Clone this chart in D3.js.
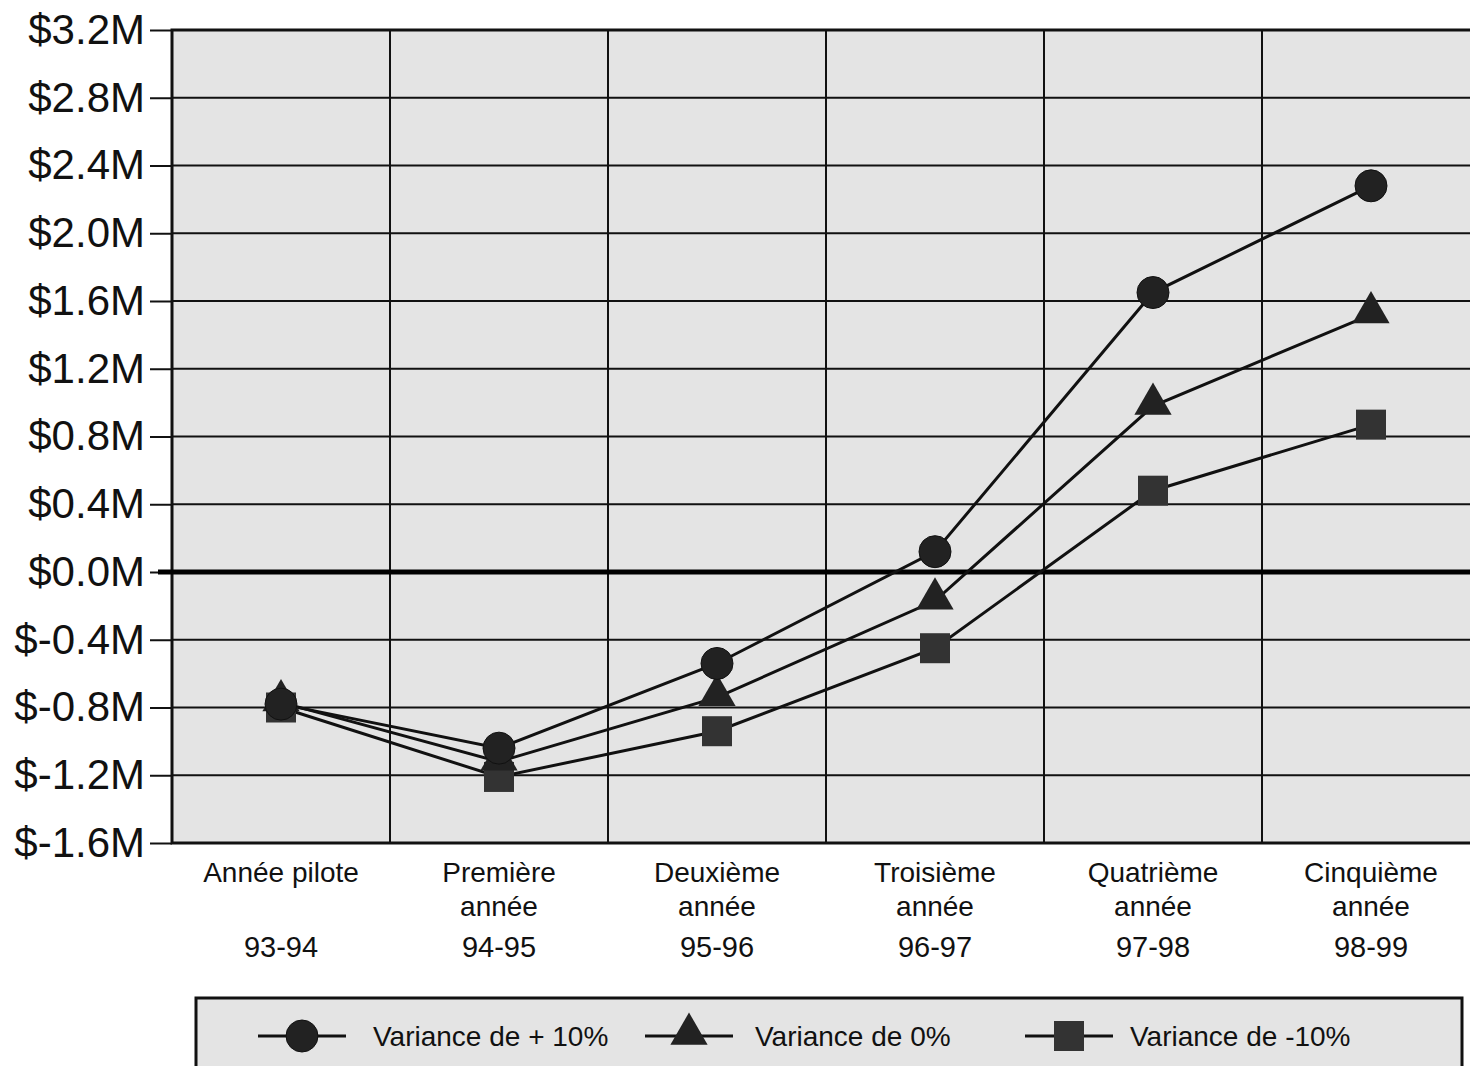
<!DOCTYPE html>
<html>
<head>
<meta charset="utf-8">
<script src="https://cdn.jsdelivr.net/npm/d3@7"></script>
<style>
  body { margin: 0; background: #fff; }
  svg { display: block; font-family: "Liberation Sans", Arial, sans-serif; }
</style>
</head>
<body>
<div id="chart"></div>
<script>
// Categories (x axis, three text rows)
const yearNames = ['Année pilote', 'Première', 'Deuxième', 'Troisième', 'Quatrième', 'Cinquième'];
const yearSub = ['', 'année', 'année', 'année', 'année', 'année'];
const periods = ['93-94', '94-95', '95-96', '96-97', '97-98', '98-99'];

// Series values, millions of dollars
const plus10 = [-0.78, -1.04, -0.54, 0.12, 1.65, 2.28];
const zero = [-0.77, -1.12, -0.74, -0.17, 0.98, 1.52];
const minus10 = [-0.80, -1.21, -0.94, -0.45, 0.48, 0.87];

const yTicks = [-1.6, -1.2, -0.8, -0.4, 0.0, 0.4, 0.8, 1.2, 1.6, 2.0, 2.4, 2.8, 3.2];
const seriesNames = ['Variance de + 10%', 'Variance de 0%', 'Variance de -10%'];

const W = 1470, H = 1066;
const plot = { left: 172, right: 1480, top: 30, bottom: 843 };

const svg = d3.select('#chart').append('svg').attr('width', W).attr('height', H);

const x = d3.scaleBand().domain(periods).range([plot.left, plot.right]).padding(0);
const y = d3.scaleLinear().domain([-1.6, 3.2]).range([plot.bottom, plot.top]);

// plot background
svg.append('rect')
  .attr('x', plot.left).attr('y', plot.top)
  .attr('width', plot.right - plot.left).attr('height', plot.bottom - plot.top)
  .attr('fill', '#e4e4e4');

// y axis ticks and labels
const yAxis = svg.append('g')
  .attr('transform', `translate(${plot.left},0)`)
  .call(d3.axisLeft(y).tickValues(yTicks).tickSize(22).tickPadding(5)
    .tickFormat(d => (d < 0 ? '$-' : '$') + Math.abs(d).toFixed(1) + 'M'));
yAxis.select('.domain').remove();
yAxis.selectAll('.tick line').attr('stroke', '#111').attr('stroke-width', 2);
yAxis.selectAll('.tick text').attr('font-size', 42).attr('fill', '#111');

// horizontal grid
svg.append('g')
  .selectAll('line')
  .data(yTicks.filter(d => d !== 0 && d !== -1.6 && d !== 3.2))
  .join('line')
  .attr('x1', plot.left).attr('x2', plot.right)
  .attr('y1', d => y(d)).attr('y2', d => y(d))
  .attr('stroke', '#111').attr('stroke-width', 2);

// vertical grid
svg.append('g')
  .selectAll('line')
  .data(periods.slice(1))
  .join('line')
  .attr('x1', d => x(d)).attr('x2', d => x(d))
  .attr('y1', plot.top).attr('y2', plot.bottom)
  .attr('stroke', '#111').attr('stroke-width', 2);

// frame
svg.append('path')
  .attr('d', `M${plot.right},${plot.top}H${plot.left}V${plot.bottom}H${plot.right}`)
  .attr('fill', 'none').attr('stroke', '#111').attr('stroke-width', 3);

// zero line
svg.append('line')
  .attr('x1', plot.left - 14).attr('x2', plot.right)
  .attr('y1', y(0)).attr('y2', y(0))
  .attr('stroke', '#000').attr('stroke-width', 5);

// x labels
const xl = svg.append('g').attr('font-size', 28).attr('fill', '#111').attr('text-anchor', 'middle');
const cx = d => x(d) + x.bandwidth() / 2;
xl.selectAll('.l1').data(periods).join('text')
  .attr('x', cx).attr('y', 882).text((d, i) => yearNames[i]);
xl.selectAll('.l2').data(periods).join('text')
  .attr('x', cx).attr('y', 916).text((d, i) => yearSub[i]);
xl.selectAll('.l3').data(periods).join('text')
  .attr('x', cx).attr('y', 957).attr('font-size', 29).text(d => d);

// series
const series = [
  { name: seriesNames[0], values: plus10, shape: 'circle' },
  { name: seriesNames[1], values: zero, shape: 'triangle' },
  { name: seriesNames[2], values: minus10, shape: 'square' }
];

const line = d3.line().x((d, i) => cx(periods[i])).y(d => y(d));

function marker(g, shape) {
  if (shape === 'circle') {
    g.append('circle').attr('r', 16).attr('fill', '#222').attr('stroke', '#111').attr('stroke-width', 1);
  } else if (shape === 'triangle') {
    g.append('path').attr('d', d3.symbol(d3.symbolTriangle, 600)()).attr('transform', 'translate(0,-2)')
      .attr('fill', '#222');
  } else {
    g.append('rect').attr('x', -15).attr('y', -15).attr('width', 30).attr('height', 30).attr('fill', '#333');
  }
}

series.forEach(s => {
  svg.append('path')
    .attr('d', line(s.values))
    .attr('fill', 'none').attr('stroke', '#111').attr('stroke-width', 3);
});
series.slice().reverse().forEach(s => {
  s.values.forEach((v, i) => {
    const g = svg.append('g').attr('transform', `translate(${cx(periods[i])},${y(v)})`);
    marker(g, s.shape);
  });
});

// legend
const leg = svg.append('g');
leg.append('rect')
  .attr('x', 196).attr('y', 998).attr('width', 1266).attr('height', 80)
  .attr('fill', '#e4e4e4').attr('stroke', '#111').attr('stroke-width', 3);

const legItems = [
  { x: 258, tx: 373 },
  { x: 645, tx: 755 },
  { x: 1025, tx: 1130 }
];
series.forEach((s, i) => {
  const it = legItems[i];
  const ly = 1036;
  leg.append('line').attr('x1', it.x).attr('x2', it.x + 88).attr('y1', ly).attr('y2', ly)
    .attr('stroke', '#111').attr('stroke-width', 3);
  const g = leg.append('g').attr('transform', `translate(${it.x + 44},${ly})`);
  marker(g, s.shape);
  leg.append('text').attr('x', it.tx).attr('y', ly + 10)
    .attr('font-size', 28).attr('fill', '#111').text(s.name);
});
</script>
</body>
</html>
